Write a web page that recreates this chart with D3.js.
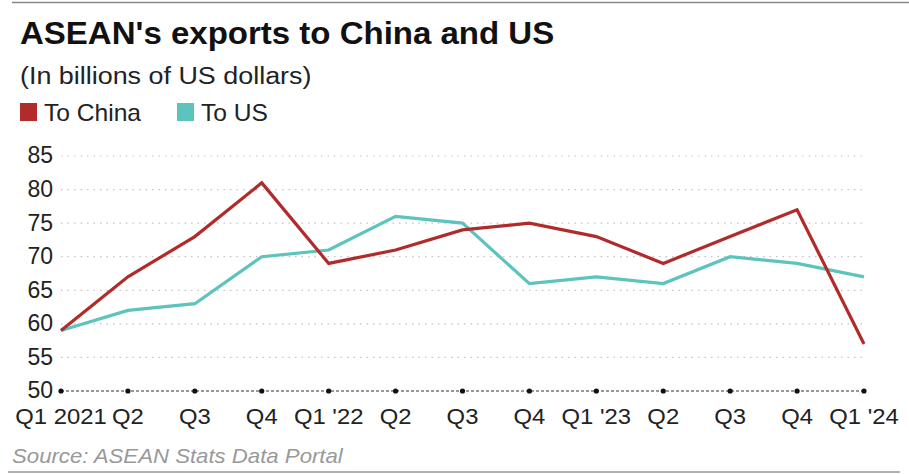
<!DOCTYPE html>
<html>
<head>
<meta charset="utf-8">
<script src="https://cdn.jsdelivr.net/npm/d3@7"></script>
<style>
  body { margin: 0; background: #fff; }
  svg { display: block; font-family: "Liberation Sans", Arial, sans-serif; }
</style>
</head>
<body>
<svg id="chart" width="909" height="474"></svg>
<script>
// data
var quarters = ["Q1 2021", "Q2", "Q3", "Q4", "Q1 '22", "Q2", "Q3", "Q4", "Q1 '23", "Q2", "Q3", "Q4", "Q1 '24"];
var toChina = [59, 67, 73, 81, 69, 71, 74, 75, 73, 69, 73, 77, 57];
var toUS = [59, 62, 63, 70, 71, 76, 75, 66, 67, 66, 70, 69, 67];
var yTicks = [50, 55, 60, 65, 70, 75, 80, 85];

var colChina = "#b22b2b", colUS = "#5cc4bd";

var svg = d3.select("#chart");
var margin = {top: 156, left: 61, right: 45, bottom: 83};
var w = 909 - margin.left - margin.right,
    h = 474 - margin.top - margin.bottom;

var x = d3.scalePoint().domain(d3.range(quarters.length)).range([0, w]);
var y = d3.scaleLinear().domain([50, 85]).range([h, 0]);

// text is slightly wider in the source picture, so stretch it a bit
function addText(parent, tx, ty, str, size, sx) {
    return parent.append("text")
        .attr("transform", "translate(" + tx + "," + ty + ") scale(" + sx + ",1)")
        .attr("font-size", size + "px")
        .text(str);
}

// top and bottom rules
svg.append("line").attr("x1", 12).attr("x2", 909).attr("y1", 2.5).attr("y2", 2.5)
    .attr("stroke", "#888").attr("stroke-width", 1.5);
svg.append("line").attr("x1", 8).attr("x2", 900).attr("y1", 472).attr("y2", 472)
    .attr("stroke", "#999").attr("stroke-width", 1.5);

// title, subtitle
addText(svg, 20, 44, "ASEAN's exports to China and US", 31, 1.065)
    .attr("font-weight", "bold").attr("fill", "#111");
addText(svg, 20, 84, "(In billions of US dollars)", 23, 1.17).attr("fill", "#222");

// legend
var legend = [["To China", colChina, 20], ["To US", colUS, 177]];
legend.forEach(function (d) {
    svg.append("rect").attr("x", d[2]).attr("y", 103).attr("width", 17).attr("height", 18).attr("fill", d[1]);
    addText(svg, d[2] + 24, 121, d[0], 23, 1.07).attr("fill", "#222");
});

var g = svg.append("g").attr("transform", "translate(" + margin.left + "," + margin.top + ")");

// grid lines (dotted)
g.selectAll(".grid").data(yTicks.filter(function (d) { return d > 50; })).enter().append("line")
    .attr("class", "grid")
    .attr("x1", 0).attr("x2", w)
    .attr("y1", function (d) { return y(d); }).attr("y2", function (d) { return y(d); })
    .attr("stroke", "#c4c4c4").attr("stroke-width", 1.2).attr("stroke-dasharray", "1.5,5");

// y tick labels
g.selectAll(".ylab").data(yTicks).enter().append("text")
    .attr("class", "ylab")
    .attr("x", -8).attr("y", function (d) { return y(d); }).attr("dy", "0.32em")
    .attr("text-anchor", "end").attr("font-size", "23px").attr("fill", "#222")
    .text(function (d) { return d; });

// bottom axis: dashed line with dots
g.append("line").attr("x1", 0).attr("x2", w).attr("y1", h).attr("y2", h)
    .attr("stroke", "#333").attr("stroke-width", 1.2).attr("stroke-dasharray", "3,2");
g.selectAll(".tickdot").data(quarters).enter().append("circle")
    .attr("cx", function (d, i) { return x(i); }).attr("cy", h).attr("r", 2.6).attr("fill", "#111");

g.selectAll(".xlab").data(quarters).enter().append("text")
    .attr("class", "xlab")
    .attr("transform", function (d, i) { return "translate(" + x(i) + "," + (h + 33) + ") scale(1.06,1)"; })
    .attr("text-anchor", "middle").attr("font-size", "22.5px").attr("fill", "#222")
    .text(function (d) { return d; });

// lines
var line = d3.line().x(function (d, i) { return x(i); }).y(function (d) { return y(d); });
[[toUS, colUS], [toChina, colChina]].forEach(function (s) {
    g.append("path").datum(s[0]).attr("d", line)
        .attr("fill", "none").attr("stroke", s[1]).attr("stroke-width", 3.2)
        .attr("stroke-linejoin", "miter");
});

// source
addText(svg, 12, 463, "Source: ASEAN Stats Data Portal", 20, 1.11)
    .attr("font-style", "italic").attr("fill", "#999");
</script>
</body>
</html>
